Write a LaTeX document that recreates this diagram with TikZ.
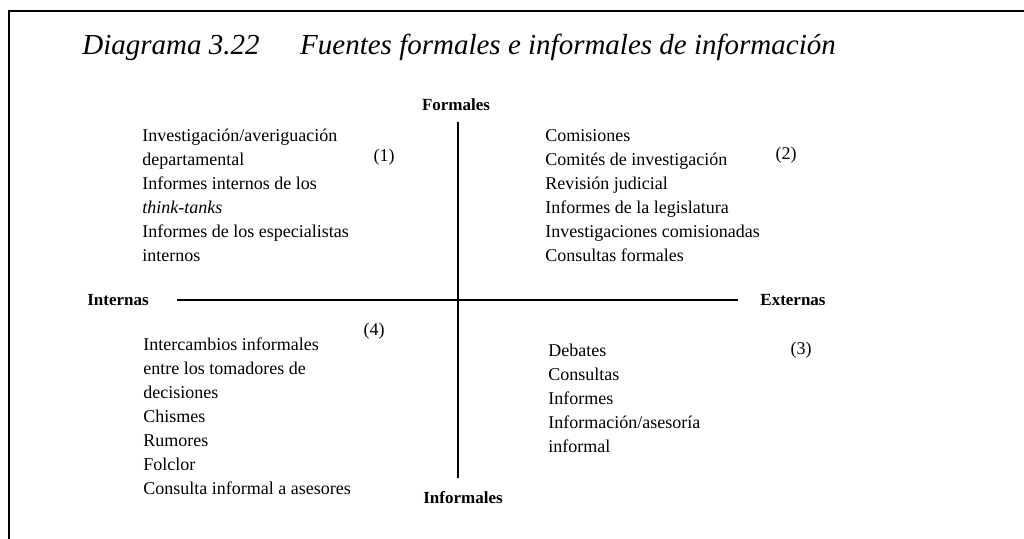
\documentclass[tikz,border=0pt]{standalone}
\usepackage{fontspec}
\setmainfont{Liberation Serif}
\usetikzlibrary{positioning}

\begin{document}
\begin{tikzpicture}[x=0.5pt, y=-0.5pt,
  lista/.style={align=left, anchor=north west, inner sep=0pt,
                font=\fontsize{9}{12}\selectfont},
  eje/.style={inner sep=0pt, font=\fontsize{8.5}{10}\selectfont\bfseries},
  nro/.style={inner sep=0pt, font=\fontsize{9}{11}\selectfont}
]
\useasboundingbox (0,0) rectangle (1024,539);
\draw[line width=0.9pt] (9,539) -- (9,11) -- (1024,11);

\node[anchor=base west, inner sep=0pt, font=\fontsize{14.5}{16}\selectfont\itshape] (titulo)
  at (82,55) {Diagrama 3.22\hspace{1.4em}Fuentes formales e informales de información};

% ejes
\coordinate (vtop) at (458,122);
\coordinate (vbot) at (458,478);
\coordinate (hizq) at (177,300);
\coordinate (hder) at (738,300);
\draw[line width=1pt] (vtop) -- (vbot);
\draw[line width=0.75pt] (hizq) -- (hder);

\node[eje] (formales) at (456,105) {Formales};
\node[eje] (informales) at (463,498) {Informales};
\node[eje] (internas) at (118,300) {Internas};
\node[eje] (externas) at (793,300) {Externas};

% cuadrantes
\node[lista] (q1) at (142,129) {Investigación/averiguación\\ departamental\\ Informes internos de los\\
  \textit{think-tanks}\\ Informes de los especialistas\\ internos};
\node[nro] (n1) at (384,157) {(1)};

\node[lista] (q2) at (545,129) {Comisiones\\ Comités de investigación\\ Revisión judicial\\
  Informes de la legislatura\\ Investigaciones comisionadas\\ Consultas formales};
\node[nro] (n2) at (786,155) {(2)};

\node[lista] (q3) at (548,344) {Debates\\ Consultas\\ Informes\\ Información/asesoría\\ informal};
\node[nro] (n3) at (801,350) {(3)};

\node[lista] (q4) at (143,337) {Intercambios informales\\ entre los tomadores de\\ decisiones\\
  Chismes\\ Rumores\\ Folclor\\ Consulta informal a asesores};
\node[nro] (n4) at (374,331) {(4)};
\end{tikzpicture}
\end{document}
